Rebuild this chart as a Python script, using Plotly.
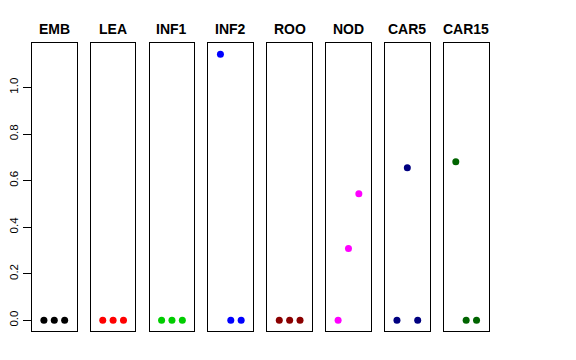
import plotly.graph_objects as go

W, H = 576, 360
OFF = 8  # page body margin offset
categories = ["EMB", "LEA", "INF1", "INF2", "ROO", "NOD", "CAR5", "CAR15"]
colors = ["#000000", "#FF0000", "#00CD00", "#0000FF", "#8B0000", "#FF00FF", "#000080", "#006400"]
x_pos = [1, 2, 3]
values = {
    "EMB": [0, 0, 0],
    "LEA": [0, 0, 0],
    "INF1": [0, 0, 0],
    "INF2": [1.143, 0, 0],
    "ROO": [0, 0, 0],
    "NOD": [0, 0.308, 0.544],
    "CAR5": [0, 0.655, 0],
    "CAR15": [0.681, 0, 0],
}
y_ticks = [0.0, 0.2, 0.4, 0.6, 0.8, 1.0]

fig = go.Figure()
left0, pw, period = 29 - OFF, 45, 59.15
top, bottom = 43 - OFF, 331 - OFF
ymax = 1.145
yr = [-0.04 * ymax, 1.04 * ymax]
xr = [0 - 0.16, 4 + 0.16]

for i, cat in enumerate(categories):
    k = "" if i == 0 else str(i + 1)
    x0 = left0 + i * period
    fig.add_trace(go.Scatter(
        x=x_pos, y=values[cat], mode="markers",
        marker=dict(color=colors[i], size=7),
        xaxis="x" + k, yaxis="y" + k, showlegend=False, hoverinfo="skip"))
    fig.layout["xaxis" + k] = dict(
        domain=[x0 / W, (x0 + pw) / W], range=xr, showgrid=False, zeroline=False,
        showticklabels=False, ticks="", showline=True, mirror=True,
        linecolor="#000000", linewidth=1, anchor="y" + k, fixedrange=True)
    yax = dict(
        domain=[(H - bottom) / H, (H - top) / H], range=yr, showgrid=False,
        zeroline=False, showline=True, mirror=True, linecolor="#000000",
        linewidth=1, anchor="x" + k, fixedrange=True)
    if i == 0:
        yax.update(tickvals=y_ticks, ticktext=[f"{v:.1f}" for v in y_ticks],
                   ticks="outside", ticklen=8, tickcolor="#000000", tickangle=-90,
                   tickfont=dict(family="Liberation Sans, Arial, sans-serif", size=11.5, color="#000000"))
    else:
        yax.update(showticklabels=False, ticks="")
    fig.layout["yaxis" + k] = yax
    fig.add_annotation(
        x=(x0 + pw / 2) / W, y=(H - (29 - OFF)) / H, xref="paper", yref="paper",
        text="<b>" + cat + "</b>", showarrow=False, xanchor="center", yanchor="middle",
        font=dict(family="Liberation Sans, Arial, sans-serif", size=14, color="#000000"))

fig.update_layout(
    width=W, height=H, margin=dict(l=0, r=0, t=0, b=0),
    paper_bgcolor="white", plot_bgcolor="white")
fig.write_html("out.html")
